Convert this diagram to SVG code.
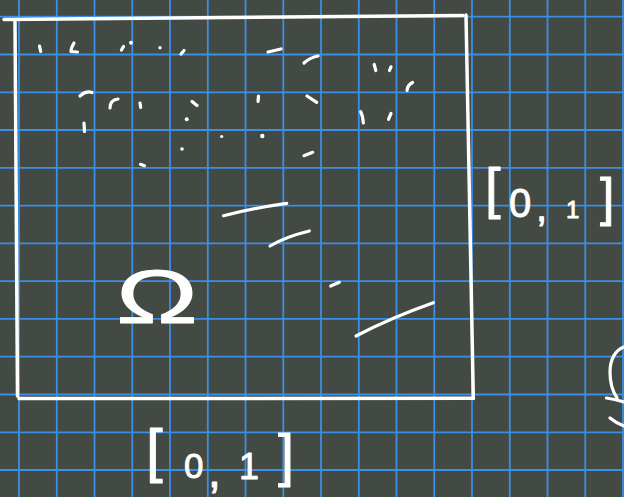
<svg xmlns="http://www.w3.org/2000/svg" width="624" height="497" viewBox="0 0 624 497">
<style>
.grid line{stroke:#3b8fe6;stroke-width:1.8}
.frame path{fill:none;stroke:#ffffff;stroke-width:3.5;stroke-linecap:round;stroke-linejoin:round}
.ink path{fill:none;stroke:#ffffff;stroke-width:3.2;stroke-linecap:round;stroke-linejoin:round}
.ink circle{fill:#ffffff}
.lbl{fill:#ffffff;stroke:#ffffff;stroke-width:0.9;stroke-linejoin:round;font-family:"Liberation Sans","DejaVu Sans",sans-serif}
</style>
<rect width="624" height="497" fill="#434943"/>
<g class="grid">
<line x1="19" y1="0" x2="19" y2="497"/><line x1="56.8" y1="0" x2="56.8" y2="497"/><line x1="94.5" y1="0" x2="94.5" y2="497"/><line x1="132.3" y1="0" x2="132.3" y2="497"/><line x1="170" y1="0" x2="170" y2="497"/><line x1="207.8" y1="0" x2="207.8" y2="497"/><line x1="245.5" y1="0" x2="245.5" y2="497"/><line x1="283.3" y1="0" x2="283.3" y2="497"/><line x1="321" y1="0" x2="321" y2="497"/><line x1="358.8" y1="0" x2="358.8" y2="497"/><line x1="396.5" y1="0" x2="396.5" y2="497"/><line x1="434.3" y1="0" x2="434.3" y2="497"/><line x1="472" y1="0" x2="472" y2="497"/><line x1="509.8" y1="0" x2="509.8" y2="497"/><line x1="547.5" y1="0" x2="547.5" y2="497"/><line x1="585.3" y1="0" x2="585.3" y2="497"/><line x1="623" y1="0" x2="623" y2="497"/>
<line x1="0" y1="16.7" x2="624" y2="16.7"/><line x1="0" y1="54.5" x2="624" y2="54.5"/><line x1="0" y1="92.3" x2="624" y2="92.3"/><line x1="0" y1="130" x2="624" y2="130"/><line x1="0" y1="167.8" x2="624" y2="167.8"/><line x1="0" y1="205.6" x2="624" y2="205.6"/><line x1="0" y1="243.4" x2="624" y2="243.4"/><line x1="0" y1="281.2" x2="624" y2="281.2"/><line x1="0" y1="318.9" x2="624" y2="318.9"/><line x1="0" y1="356.7" x2="624" y2="356.7"/><line x1="0" y1="394.5" x2="624" y2="394.5"/><line x1="0" y1="432.3" x2="624" y2="432.3"/><line x1="0" y1="470" x2="624" y2="470"/>
</g>
<g id="square" class="frame">
<path d="M4,19.4 Q230,17 463,15.6"/>
<path d="M466,15 L473.3,398.4"/>
<path d="M19,398.6 L473.5,398.2"/>
<path d="M15,21 L17.5,396"/>
</g>
<g id="points" class="ink">
<path d="M39.5,46 L40.7,51.5"/>
<path d="M74,43 Q71,48 71,51.5 L77.5,52"/>
<path d="M121.5,50 L123.5,46.5"/>
<circle cx="131" cy="42.7" r="2"/>
<circle cx="160" cy="47.7" r="1.7"/>
<path d="M181,54 L184,50.5"/>
<path d="M268,52 L281,49"/>
<path d="M304,63 Q309,58 318,56"/>
<path d="M80,96 Q86,90.5 92,92.5"/>
<path d="M110,108 Q110,100 118,99"/>
<path d="M140,103 L140.7,107.5"/>
<path d="M192,101.5 L197,105.5"/>
<circle cx="186.7" cy="119.3" r="2"/>
<path d="M258.5,96 L258,101.5"/>
<path d="M307,96 L316.7,102.3"/>
<path d="M84,123 L84.5,131.5"/>
<circle cx="221.7" cy="136.5" r="1.6"/>
<circle cx="262.3" cy="136" r="2.2"/>
<circle cx="182" cy="149" r="1.8"/>
<path d="M140.5,164.3 L144.5,165.7"/>
<path d="M304,155.7 L312.7,152.3"/>
<path d="M374.2,64.5 L375.8,70.5"/>
<path d="M389.5,70.5 L391,66.8"/>
<path d="M407,90.5 Q407.5,85 412.5,82.5"/>
<path d="M360.7,111.7 Q363,116 363.3,123"/>
<path d="M388.5,119.3 L391,113.5"/>
<path d="M330.7,286 L339.3,282.3"/>
<path d="M223.5,215.7 Q253,208 286.7,203.3"/>
<path d="M270,246 Q285,237 309.3,231"/>
<path d="M356,336 Q390,318 433.3,302.7"/>
</g>
<g id="edge-mark" class="ink">
<path d="M624,347 C615,350 610,360 610,372 C610,384 613,392 617,398"/>
<path d="M606.5,398 Q614,399 624,402"/>
<path d="M610,418 Q616,423 624,426"/>
</g>
<g id="omega-label">
<text class="lbl" x="116" y="323" font-size="76" textLength="82" lengthAdjust="spacingAndGlyphs">Ω</text>
</g>
<g id="x-label">
<text class="lbl"><tspan x="146" y="471" font-size="60">[</tspan><tspan x="184" y="478" font-size="35">0</tspan><tspan x="208" y="487" font-size="46">,</tspan><tspan x="239" y="479" font-size="36">1</tspan><tspan x="278" y="475" font-size="58">]</tspan></text>
</g>
<g id="y-label">
<text class="lbl"><tspan x="485" y="207" font-size="56">[</tspan><tspan x="509" y="217" font-size="40">0</tspan><tspan x="536" y="221" font-size="40">,</tspan><tspan x="566" y="218" font-size="24">1</tspan><tspan x="600" y="215" font-size="52">]</tspan></text>
</g>
</svg>
